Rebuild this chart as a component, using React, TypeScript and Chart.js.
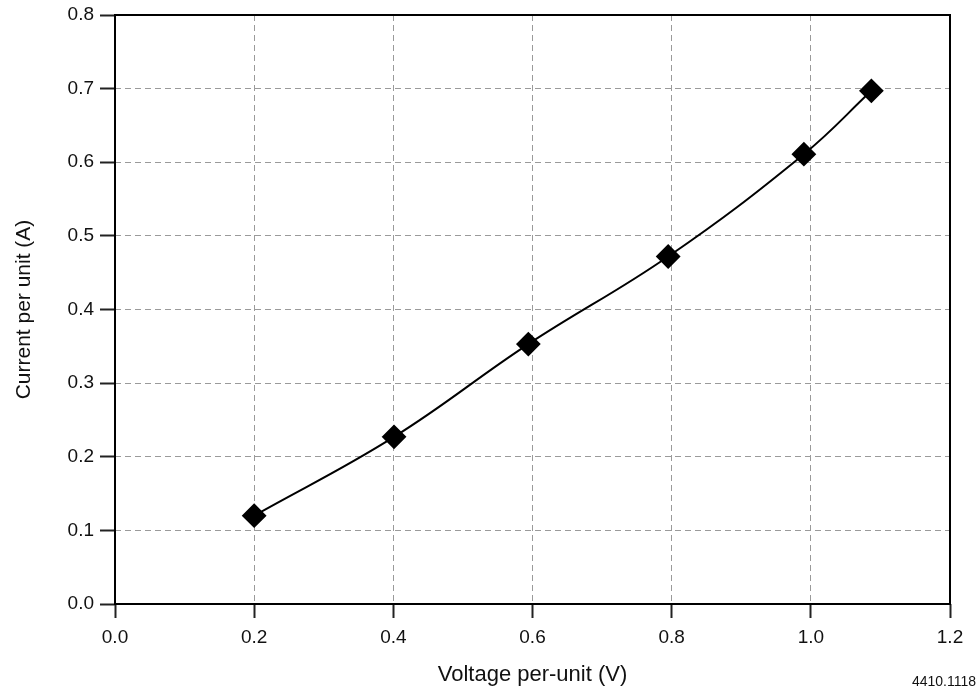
import React, { useEffect, useRef } from "react";
import { Chart, registerables } from "chart.js";

Chart.register(...registerables);

const voltage = [0.2, 0.401, 0.594, 0.795, 0.99, 1.087];
const current = [0.12, 0.227, 0.353, 0.472, 0.611, 0.697];
const xTitle = "Voltage per-unit (V)";
const yTitle = "Current per unit (A)";
const figureId = "4410.1118";

const FONT = "'Liberation Sans', Arial, sans-serif";

const frame = {
  id: "frame",
  afterDraw(chart: any) {
    const { ctx, chartArea } = chart;
    ctx.save();
    ctx.strokeStyle = "#000";
    ctx.lineWidth = 2;
    ctx.strokeRect(chartArea.left, chartArea.top, chartArea.right - chartArea.left, chartArea.bottom - chartArea.top);
    ctx.restore();
  },
};

export default function App() {
  const ref = useRef<HTMLCanvasElement>(null);
  useEffect(() => {
    const chart = new Chart(ref.current!, {
      type: "line",
      data: {
        datasets: [
          {
            data: voltage.map((v, i) => ({ x: v, y: current[i] })),
            borderColor: "#000",
            borderWidth: 2,
            backgroundColor: "#000",
            pointStyle: "rectRot",
            pointRadius: 11,
            pointHoverRadius: 11,
            tension: 0.4,
          },
        ],
      },
      options: {
        animation: false,
        responsive: false,
        layout: { padding: { left: 0, top: 15, right: 27, bottom: 0 } },
        plugins: { legend: { display: false }, tooltip: { enabled: false } },
        scales: {
          x: {
            type: "linear",
            min: 0,
            max: 1.2,
            afterFit(s: any) { s.height = 86; },
            ticks: {
              stepSize: 0.2,
              color: "#111",
              padding: 8,
              font: { family: FONT, size: 19 },
              callback: (v: any) => Number(v).toFixed(1),
            },
            grid: { color: "#9a9a9a", lineWidth: 1, tickLength: 14, tickColor: "#222", tickWidth: 2 },
            border: { display: false, dash: [6, 4] },
            title: { display: true, text: xTitle, color: "#111", font: { family: FONT, size: 22 }, padding: { top: 0, bottom: 2 } },
          },
          y: {
            type: "linear",
            min: 0,
            max: 0.8,
            afterFit(s: any) { s.width = 115; },
            ticks: {
              stepSize: 0.1,
              color: "#111",
              padding: 6,
              font: { family: FONT, size: 19, lineHeight: 0.9 },
              callback: (v: any) => Number(v).toFixed(1),
            },
            grid: { color: "#9a9a9a", lineWidth: 1, tickLength: 15, tickColor: "#222", tickWidth: 2 },
            border: { display: false, dash: [6, 4] },
            title: { display: true, text: yTitle, color: "#111", font: { family: FONT, size: 21 }, padding: { top: 12, bottom: 0 } },
          },
        },
      },
      plugins: [frame],
    });
    return () => chart.destroy();
  }, []);
  return (
    <div style={{ position: "absolute", left: 0, top: 0, width: 977, height: 690, background: "#fff" }}>
      <canvas ref={ref} width={977} height={690} />
      <span style={{ position: "absolute", right: 1, top: 673, fontFamily: FONT, fontSize: 14, color: "#111" }}>{figureId}</span>
    </div>
  );
}
